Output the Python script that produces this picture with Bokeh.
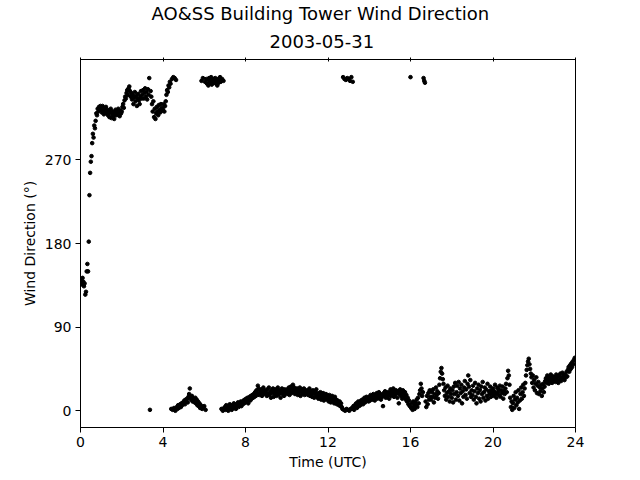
from bokeh.plotting import figure
from bokeh.models import Range1d, LinearAxis, FixedTicker, ColumnDataSource, Title
from bokeh.embed import file_html
from bokeh.resources import INLINE

# Wind direction (degrees), one list per UTC hour, sampled every 2 minutes
hours = list(range(24))
dir_h00 = [141, 138, 136, 143, 139, 134, 137, 125, 128, 150, 158, 150, 182, 232, 256, 268, 274, 288, 298, 294, 307, 304, 312, 320, 318, 325, 322, 327, 324, 328]
dir_h01 = [326, 321, 328, 323, 319, 325, 321, 327, 320, 324, 318, 323, 316, 321, 325, 315, 319, 322, 317, 314, 320, 324, 318, 322, 319, 325, 321, 317, 323, 320]
dir_h02 = [322, 327, 330, 326, 334, 338, 336, 342, 345, 340, 347, 349, 344, 338, 342, 335, 340, 330, 337, 343, 333, 339, 328, 336, 341, 334, 330, 338, 344, 336]
dir_h03 = [340, 345, 336, 342, 347, 338, 343, 335, 346, 340, 358, 1, 344, 338, 330, 322, 333, 316, 325, 314, 320, 327, 322, 318, 329, 324, 321, 330, 326, 323]
dir_h04 = [325, 330, 322, 328, 333, 340, 345, 343, 350, 348, 354, 352, 2, 357, 1, 359, 3, 358, 0, 356, 4, 2, 6, 3, 5, 7, 4, 8, 6, 9]
dir_h05 = [8, 11, 7, 12, 10, 13, 9, 15, 18, 24, 14, 12, 16, 10, 13, 11, 9, 14, 8, 12, 6, 10, 5, 8, 3, 6, 355, 2, 358, 4]
dir_h06 = [5, 354, 1, 357, 352, 356, 350, 358, 353, 355, 359, 351, 356, 353, 357, 354, 358, 352, 355, 350, 357, 353, 356, 359, 354, 2, 357, 0, 355, 3]
dir_h07 = [4, 1, 6, 2, 5, 0, 3, 7, 2, 5, 1, 6, 4, 8, 3, 6, 2, 7, 5, 9, 4, 8, 6, 10, 5, 9, 7, 11, 8, 12]
dir_h08 = [9, 13, 10, 14, 8, 12, 15, 11, 16, 13, 17, 14, 18, 15, 20, 16, 22, 19, 27, 24, 17, 21, 18, 23, 16, 20, 25, 18, 22, 19]
dir_h09 = [21, 16, 23, 18, 25, 17, 20, 14, 22, 19, 24, 15, 21, 18, 23, 16, 20, 25, 17, 22, 19, 14, 21, 24, 18, 20, 16, 23, 19, 22]
dir_h10 = [18, 23, 20, 25, 17, 22, 26, 19, 24, 28, 21, 25, 18, 23, 20, 24, 17, 22, 19, 25, 16, 21, 23, 18, 20, 24, 17, 22, 19, 21]
dir_h11 = [22, 17, 20, 24, 16, 21, 18, 15, 22, 19, 14, 20, 17, 23, 15, 19, 13, 18, 16, 20, 12, 17, 14, 19, 11, 16, 13, 18, 15, 12]
dir_h12 = [15, 10, 17, 12, 9, 14, 16, 11, 13, 8, 15, 10, 12, 7, 11, 9, 6, 10, 5, 8, 4, 2, 359, 1, 357, 0, 356, 2, 358, 1]
dir_h13 = [357, 0, 355, 2, 359, 3, 354, 5, 1, 6, 4, 8, 3, 7, 10, 5, 9, 6, 11, 8, 12, 7, 10, 14, 9, 12, 15, 11, 13, 10]
dir_h14 = [15, 11, 17, 13, 16, 12, 18, 14, 11, 17, 15, 19, 13, 16, 20, 14, 18, 12, 17, 15, 5, 19, 16, 21, 14, 18, 15, 20, 17, 13]
dir_h15 = [19, 23, 16, 21, 18, 24, 15, 20, 17, 22, 19, 14, 21, 8, 18, 23, 16, 20, 13, 22, 18, 15, 20, 12, 17, 10, 14, 7, 11, 5]
dir_h16 = [359, 3, 8, 1, 10, 5, 2, 9, 6, 12, 4, 14, 8, 18, 22, 29, 24, 16, 20, 358, 355, 353, 10, 4, 16, 7, 19, 12, 22, 15]
dir_h17 = [12, 20, 15, 23, 9, 18, 14, 25, 17, 21, 13, 19, 28, 35, 42, 46, 40, 34, 29, 22, 16, 25, 12, 19, 27, 15, 21, 10, 24, 18]
dir_h18 = [14, 22, 9, 26, 18, 30, 12, 20, 27, 16, 31, 11, 24, 19, 28, 8, 21, 15, 25, 32, 17, 23, 13, 29, 38, 26, 19, 33, 15, 22]
dir_h19 = [17, 27, 12, 21, 30, 15, 8, 24, 19, 28, 13, 22, 10, 26, 18, 31, 14, 20, 25, 11, 23, 16, 29, 13, 21, 18, 26, 15, 22, 19]
dir_h20 = [24, 16, 21, 28, 18, 14, 25, 20, 23, 17, 27, 15, 22, 19, 26, 13, 21, 18, 24, 29, 20, 35, 43, 38, 28, 14, 4, 10, 1, 8]
dir_h21 = [16, 3, 12, 20, 6, 14, 9, 22, 2, 11, 18, 25, 13, 20, 28, 16, 24, 30, 38, 44, 49, 53, 56, 50, 45, 40, 36, 30, 38, 25]
dir_h22 = [33, 22, 29, 36, 19, 27, 31, 18, 25, 21, 28, 16, 24, 29, 20, 26, 32, 35, 30, 38, 33, 29, 36, 31, 39, 34, 30, 37, 32, 35]
dir_h23 = [36, 31, 39, 33, 37, 30, 38, 34, 40, 32, 36, 41, 35, 38, 33, 39, 36, 42, 37, 44, 47, 42, 49, 45, 51, 47, 53, 50, 55, 57]

directions = [dir_h00, dir_h01, dir_h02, dir_h03, dir_h04, dir_h05, dir_h06, dir_h07,
              dir_h08, dir_h09, dir_h10, dir_h11, dir_h12, dir_h13, dir_h14, dir_h15,
              dir_h16, dir_h17, dir_h18, dir_h19, dir_h20, dir_h21, dir_h22, dir_h23]

x_ticks = [0, 4, 8, 12, 16, 20, 24]
y_ticks = [0, 90, 180, 270]
title_line1 = "AO&SS Building Tower Wind Direction"
title_line2 = "2003-05-31"

times, dirs = [], []
for h, vals in zip(hours, directions):
    n = len(vals)
    for i, v in enumerate(vals):
        times.append(h + i / n)
        dirs.append(v)

src = ColumnDataSource(data=dict(t=times, d=dirs))

FONT = "DejaVu Sans"

p = figure(width=640, height=480, x_range=Range1d(0, 24), y_range=Range1d(-18, 378),
           output_backend="svg", toolbar_location=None,
           min_border_left=80, min_border_right=65, min_border_top=58, min_border_bottom=53,
           x_axis_label="Time (UTC)", y_axis_label="Wind Direction (°)")

p.xgrid.visible = False
p.ygrid.visible = False
p.outline_line_color = "black"
p.outline_line_width = 1

for ax, ticks in ((p.xaxis[0], x_ticks), (p.yaxis[0], y_ticks)):
    ax.ticker = FixedTicker(ticks=ticks)
    ax.minor_tick_line_color = None
    ax.major_tick_out = 5
    ax.major_tick_in = 0
    ax.major_label_text_font = FONT
    ax.major_label_text_font_size = "14px"
    ax.major_label_text_color = "black"
    ax.axis_label_text_font = FONT
    ax.axis_label_text_font_size = "14px"
    ax.axis_label_text_font_style = "normal"
    ax.axis_label_text_color = "black"
    ax.axis_line_color = "black"
    ax.major_tick_line_color = "black"
    ax.major_label_standoff = 4
p.xaxis[0].axis_label_standoff = 4
p.yaxis[0].axis_label_standoff = 4

top = LinearAxis(ticker=FixedTicker(ticks=x_ticks))
top.minor_tick_line_color = None
top.major_tick_in = 2
top.major_tick_out = 2
top.major_label_overrides = {t: "" for t in x_ticks}
top.major_label_standoff = 0
top.axis_line_color = "black"
p.add_layout(top, "above")

t2 = Title(text=title_line2, align="left", text_font=FONT, text_font_size="18px",
           text_font_style="normal", text_color="black", offset=189, standoff=19)
p.add_layout(t2, "above")
p.title.text = title_line1
p.title.align = "left"
p.title.offset = 71
p.title.standoff = 0
p.title.text_font = FONT
p.title.text_font_size = "18px"
p.title.text_font_style = "normal"
p.title.text_color = "black"

p.scatter("t", "d", source=src, size=3.6, color="black")

open("out.html", "w").write(file_html(p, INLINE))
